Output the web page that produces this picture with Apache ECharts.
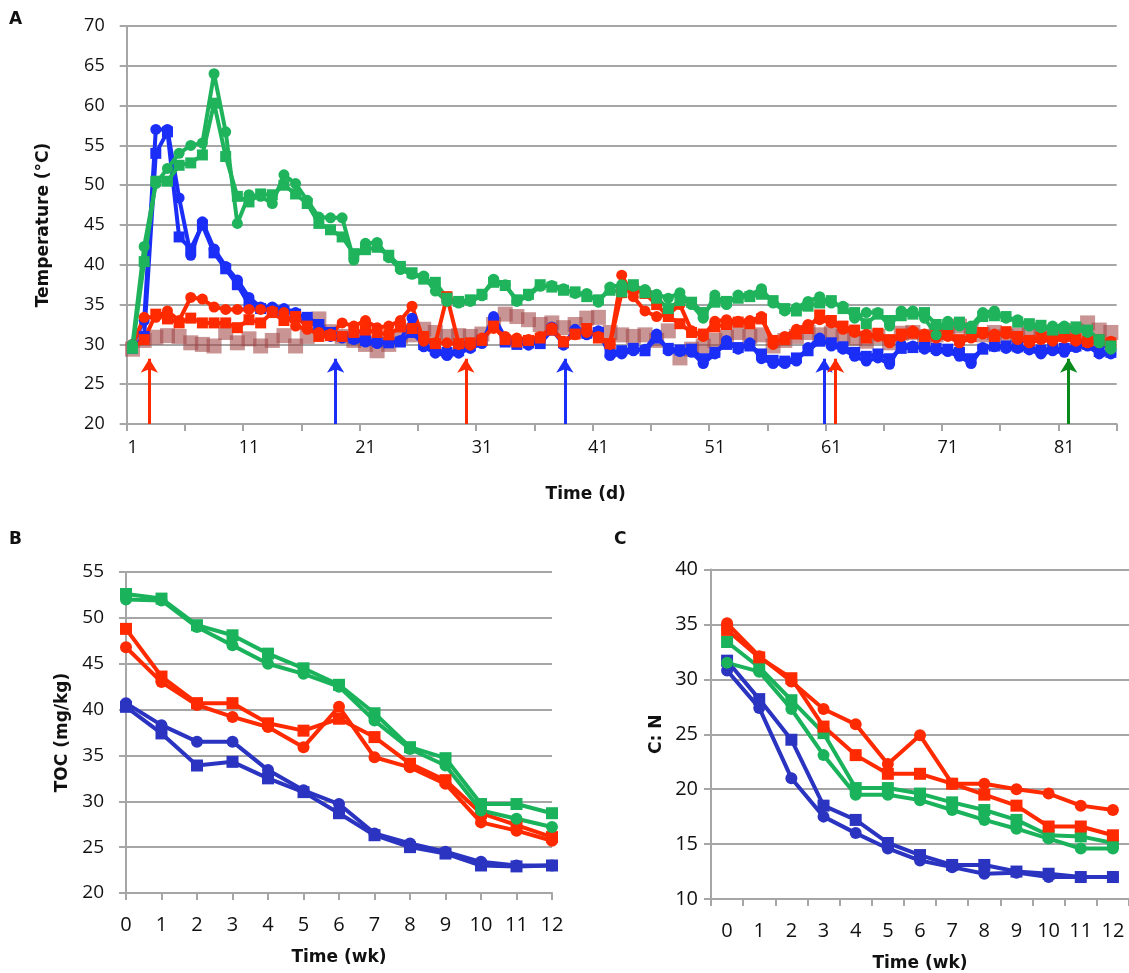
<!DOCTYPE html>
<html><head><meta charset="utf-8">
<script src="https://cdn.jsdelivr.net/npm/echarts@6/dist/echarts.min.js"></script>
<style>html,body{margin:0;padding:0;background:#fff}#c{width:1129px;height:973px}</style>
</head><body><div id="c"></div>
<script>
// ---------- Panel A: temperature (°C) by day ----------
const days = ['1','2','3','4','5','6','7','8','9','10','11','12','13','14','15','16','17','18','19','20','21','22','23','24','25','26','27','28','29','30','31','32','33','34','35','36','37','38','39','40','41','42','43','44','45','46','47','48','49','50','51','52','53','54','55','56','57','58','59','60','61','62','63','64','65','66','67','68','69','70','71','72','73','74','75','76','77','78','79','80','81','82','83','84','85'];
const tempControl = [29.4,30.5,30.9,31.1,31,30.2,30,29.8,31.5,30.2, 30.7,29.8,30.5,31.1,29.8,31,33.2,31.6,31,30.5, 30,29.2,30,31,31.2,31.9,31.5,31,31.1,31, 31.3,32.5,33.8,33.5,33.1,32.5,32.7,32.1,32.5,33.3, 33.4,31.5,31.2,31,31.2,30.5,31.7,28.3,29.4,29.8, 30.5,30.9,31.5,31,31.2,29.8,30.5,31,31.5,31.2, 31.4,31,30.8,30.4,31,30.2,31.4,31.5,31,31.2, 31.5,32.3,31.8,31.2,31.5,31,31.2,31.5,31.3,31.5, 31.4,31.7,32.7,31.8,31.5];
const tempBlue1 = [30,33,57,57,48.4,41.2,45.4,42,39.8,38.1, 35.9,34.7,34.7,34.5,34,33.1,32.1,31,30.8,30.6, 30.3,30.1,30.3,30.5,33.3,29.7,28.9,28.6,28.9,29.5, 30.1,33.5,30.8,30.3,29.9,30.4,32.2,29.9,31.9,31.2, 31.7,28.6,28.8,29.2,29.4,31.3,29.2,29.1,29,27.6, 28.8,30.5,29.4,30.2,28.2,27.6,27.6,27.9,29.6,30.8, 29.8,29.4,28.5,27.9,28.3,27.5,30,29.8,29.4,29.2, 29.1,28.5,27.6,29.6,29.7,29.5,29.5,29.3,28.8,29.2, 29,29.6,29.8,28.8,28.8];
const tempBlue2 = [29.5,31,54,56.7,43.5,42,45,41.5,39.5,37.5, 35,34.5,34.3,34.2,33.8,33.4,32.5,31.5,31,30.8, 30.5,30.4,30.2,30.3,31.5,30,29.3,29,29.2,29.8, 30.5,32.8,30.3,30,30.2,30.1,31.8,30.2,31.5,31.4, 31.5,29,29.2,29.5,29.2,30.8,29.5,29.3,29.4,28.2, 29,30,29.6,29.8,28.8,28,27.9,28.3,29.2,30.4, 30.2,29.7,29,28.5,28.8,28.2,29.5,29.6,29.7,29.5, 29.4,29,28.2,29.4,29.8,29.8,29.7,29.6,29.3,29.5, 29.5,29.8,30,29.1,29];
const tempRed1 = [30,33.4,33.4,34.2,33,35.9,35.7,34.7,34.4,34.4, 34.4,34.4,34.2,34,32.3,31.9,31.5,31.3,32.7,32.3, 33,32.1,32.3,33,34.8,30.4,30.2,30.2,30,29.9, 30.8,32,31,30.8,30.6,31,32.1,30.4,31.2,31.5, 31,30,38.7,36,34.2,33.5,33.8,35,31.7,31, 32.9,33.1,32.9,33,33.5,30,31,31.9,32.5,33.1, 32.7,31.9,31.5,31.3,31,30.2,31,31.7,31.3,30.8, 31,30.2,30.8,31.3,31.3,31.3,30.6,30.2,30.6,30.4, 30.8,30.4,30.2,30.2,30.4];
const tempRed2 = [29.6,30.6,33.8,33.2,32.7,33.3,32.7,32.7,32.7,32.1, 33.1,32.7,34,33,33.5,32.3,31,31.1,31,31.5, 31.8,31.5,31.2,32.2,32,31,30.1,36,30.1,30.2, 30.5,32.3,30.6,30.3,30.5,30.8,31.8,30.3,31.3,32, 30.8,30.1,36.5,37,36.4,35,33.5,32.6,31.5,31.3, 32.2,32.5,32.8,32.6,33.2,30.5,30.6,31.3,32,33.7, 33,32.3,31.8,30.8,31.4,30.6,31.3,31.4,31,31.2, 31.3,30.6,31,31.5,31,31.6,31,30.5,30.9,30.8, 31,30.7,30.4,30.6,30.2];
const tempGreen1 = [30,42.3,50.2,52.1,54,55,55.3,64,56.7,45.2, 48.8,48.6,47.7,51.3,50.2,48.1,46,45.9,45.9,40.6, 42.7,42.8,40.9,39.4,38.8,38.6,36.7,35.4,35.2,35.4, 36.1,38.2,37.5,35.4,36.1,37.3,37.4,37,36.4,36.4, 35.3,37.2,37.5,37.3,36.9,36.3,35.8,36.5,35,33.3, 36.2,35,36.2,36.2,37,35.2,34.2,34.6,35.4,36, 35.2,34.8,33.3,34,34,32.3,34.2,34.2,33.3,31.2, 32.9,32.3,32.3,34,34.2,33.3,33.1,32.3,32.1,32.3, 32.3,31.9,31.5,30.2,29.4];
const tempGreen2 = [29.5,40.4,50.5,50.5,52.5,52.8,53.8,60.3,53.6,48.6, 47.9,48.9,48.8,50,48.9,47.7,45.2,44.4,43.5,41.4, 41.9,42.2,41.2,39.8,39,38.2,37.8,35.8,35.4,35.6, 36.3,37.8,37.4,35.6,36.3,37.5,37.2,36.8,36.6,36, 35.6,36.8,36.6,37.5,36.5,35.8,34.5,35.5,35.3,34, 35.3,35.4,35.8,36,36.3,35.5,34.5,34.2,34.8,35.2, 35.5,34.5,34,32.6,33.8,33,33.6,33.8,34,32.5, 32.5,32.8,32,33.5,33.6,33.5,32.8,32.6,32.4,31.8, 32,32.2,31.8,30.6,29.8];
// arrows (day position on a continuous day scale, base and tip temperature)
const arrowDays = [2.44, 18.44, 29.62, 38.12, 60.38, 61.36, 81.38];
const arrowKinds = ['red','blue','red','blue','blue','red','green'];
const arrowBase = 20, arrowTip = 28.2;

// ---------- Panel B: TOC (mg/kg) by week ----------
const weeks = ['0','1','2','3','4','5','6','7','8','9','10','11','12'];
const tocGreen1 = [52.6,52.1,49.2,48.1,46.1,44.5,42.7,39.6,35.9,34.7,29.7,29.7,28.7];
const tocGreen2 = [52,51.9,49,47,45,43.9,42.5,38.8,35.7,33.9,29,28.1,27.2];
const tocRed1 = [48.8,43.6,40.7,40.7,38.5,37.7,39,37,34.1,32.3,28.7,27.4,26.1];
const tocRed2 = [46.8,43,40.5,39.2,38.1,35.9,40.3,34.8,33.7,31.9,27.7,26.8,25.7];
const tocBlue1 = [40.7,38.3,36.5,36.5,33.4,31.2,29.7,26.5,25.4,24.5,23.4,23,23];
const tocBlue2 = [40.3,37.4,33.9,34.3,32.5,31,28.7,26.3,25,24.3,23,22.9,23];

// ---------- Panel C: C:N by week ----------
const cnRed1 = [35.1,32.1,29.8,27.3,25.9,22.3,24.9,20.5,20.5,20,19.6,18.5,18.1];
const cnRed2 = [34.5,32,30.1,25.7,23.1,21.4,21.4,20.5,19.5,18.5,16.6,16.6,15.8];
const cnGreen1 = [33.4,31.1,28.1,25.1,20.1,20.1,19.6,18.8,18.1,17.2,15.8,15.7,15.1];
const cnGreen2 = [31.5,30.7,27.3,23.1,19.5,19.5,19,18.1,17.2,16.4,15.5,14.6,14.6];
const cnBlue1 = [31.7,28.2,24.5,18.5,17.2,15.1,14,13.1,13.1,12.5,12.3,12,12];
const cnBlue2 = [30.8,27.4,21,17.5,16,14.6,13.5,12.9,12.3,12.4,12,12,12];

// ---------- styling ----------
const colA = {blue:'#1a2ef8', red:'#ff2a00', green:'#1fb35c', control:'rgba(160,70,70,0.72)', arrowGreen:'#0b8a1c'};
const colBC = {blue:'#2a34c0', red:'#ff2a00', green:'#1ab35c'};
const GRAY = '#a6a6a6';
const FONT = '"Open Sans", "Liberation Sans", sans-serif';
const TFONT = '"DejaVu Sans", "Liberation Sans", sans-serif';

function lineS(name, data, color, sym, xi, yi, size, width) {
  return {name, type:'line', data, xAxisIndex:xi, yAxisIndex:yi, symbol:sym, symbolSize:size,
    showAllSymbol:true, lineStyle:{color, width}, itemStyle:{color}, z:3, animation:false};
}
function catX(grid, data, opts) {
  return Object.assign({type:'category', gridIndex:grid, data,
    axisLine:{lineStyle:{color:GRAY, width:2}},
    axisTick:{show:true, length:7, lineStyle:{color:GRAY, width:2}},
    nameLocation:'middle', nameTextStyle:{color:'#111', fontFamily:TFONT, fontWeight:'bold', fontSize:17},
    splitLine:{show:false}}, opts);
}
function valY(grid, min, max, name, gap, fs, margin) {
  return {type:'value', gridIndex:grid, min, max, interval:5, name, nameLocation:'middle', nameGap:gap,
    nameTextStyle:{color:'#111', fontFamily:TFONT, fontWeight:'bold', fontSize:17},
    axisLine:{show:true, lineStyle:{color:GRAY, width:2}},
    axisTick:{show:true, length:7, lineStyle:{color:GRAY, width:2}},
    axisLabel:{color:'#111', fontFamily:FONT, fontSize:fs, margin},
    splitLine:{show:true, lineStyle:{color:GRAY, width:2}}};
}

const arrowColor = k => k==='green' ? colA.arrowGreen : colA[k];
const arrowLines = arrowDays.map((d,i)=>[
  {coord:[d, arrowBase], lineStyle:{color:arrowColor(arrowKinds[i]), width:3, type:'solid'}},
  {coord:[d, arrowTip]}
]);

const option = {
  backgroundColor:'#fff',
  animation:false,
  grid:[
    {left:126.7, right:12.3, top:26, bottom:549},
    {left:126, right:577, top:572, bottom:80},
    {left:711, right:-5, top:569.5, bottom:74}
  ],
  xAxis:[
    catX(0, days, {boundaryGap:true, name:'Time (d)', nameGap:62,
      nameTextStyle:{color:'#111', fontFamily:TFONT, fontWeight:'bold', fontSize:17, padding:[0,72,0,0]},
      axisTick:{show:true, interval:4, length:7, lineStyle:{color:GRAY, width:2}},
      axisLabel:{interval:9, color:'#111', fontFamily:FONT, fontSize:18, margin:15}}),
    {type:'value', gridIndex:0, min:0.5, max:85.5, show:false},
    catX(1, weeks, {boundaryGap:false, name:'Time (wk)', nameGap:56,
      axisLabel:{interval:0, color:'#111', fontFamily:FONT, fontSize:20, margin:22}}),
    catX(2, weeks, {boundaryGap:true, name:'Time (wk)', nameGap:56,
      axisLabel:{interval:0, color:'#111', fontFamily:FONT, fontSize:20, margin:22}})
  ],
  yAxis:[
    valY(0, 20, 70, 'Temperature (°C)', 75, 18, 22),
    valY(1, 20, 55, 'TOC (mg/kg)', 55, 19, 22),
    valY(2, 10, 40, 'C: N', 46, 20, 13)
  ],
  graphic:[
    {type:'text', left:9, top:11, style:{text:'A', font:'bold 17px '+TFONT, fill:'#111'}},
    {type:'text', left:9, top:531, style:{text:'B', font:'bold 17px '+TFONT, fill:'#111'}},
    {type:'text', left:614, top:531, style:{text:'C', font:'bold 17px '+TFONT, fill:'#111'}}
  ],
  series:[
    {name:'Control', type:'scatter', data:tempControl, xAxisIndex:0, yAxisIndex:0, symbol:'rect', symbolSize:15,
      itemStyle:{color:colA.control}, z:2},
    lineS('Blue 1', tempBlue1, colA.blue, 'circle', 0, 0, 11, 4),
    lineS('Blue 2', tempBlue2, colA.blue, 'rect', 0, 0, 11, 4),
    lineS('Red 1', tempRed1, colA.red, 'circle', 0, 0, 11, 4),
    lineS('Red 2', tempRed2, colA.red, 'rect', 0, 0, 11, 4),
    lineS('Green 1', tempGreen1, colA.green, 'circle', 0, 0, 11, 4),
    lineS('Green 2', tempGreen2, colA.green, 'rect', 0, 0, 11, 4),
    {name:'Arrows', type:'line', xAxisIndex:1, yAxisIndex:0, data:[], symbol:'none',
      markLine:{silent:true, symbol:['none','arrow'], symbolSize:[13,14], label:{show:false}, animation:false,
        data:arrowLines}},
    lineS('TOC Blue 1', tocBlue1, colBC.blue, 'circle', 2, 1, 12, 4),
    lineS('TOC Blue 2', tocBlue2, colBC.blue, 'rect', 2, 1, 12, 4),
    lineS('TOC Red 1', tocRed1, colBC.red, 'rect', 2, 1, 12, 4),
    lineS('TOC Red 2', tocRed2, colBC.red, 'circle', 2, 1, 12, 4),
    lineS('TOC Green 1', tocGreen1, colBC.green, 'rect', 2, 1, 12, 4),
    lineS('TOC Green 2', tocGreen2, colBC.green, 'circle', 2, 1, 12, 4),
    lineS('CN Blue 1', cnBlue1, colBC.blue, 'rect', 3, 2, 12, 4),
    lineS('CN Blue 2', cnBlue2, colBC.blue, 'circle', 3, 2, 12, 4),
    lineS('CN Green 1', cnGreen1, colBC.green, 'rect', 3, 2, 12, 4),
    lineS('CN Green 2', cnGreen2, colBC.green, 'circle', 3, 2, 12, 4),
    lineS('CN Red 1', cnRed1, colBC.red, 'circle', 3, 2, 12, 4),
    lineS('CN Red 2', cnRed2, colBC.red, 'rect', 3, 2, 12, 4)
  ]
};
const chart = echarts.init(document.getElementById('c'), null, {renderer:'canvas'});
chart.setOption(option);
</script></body></html>
